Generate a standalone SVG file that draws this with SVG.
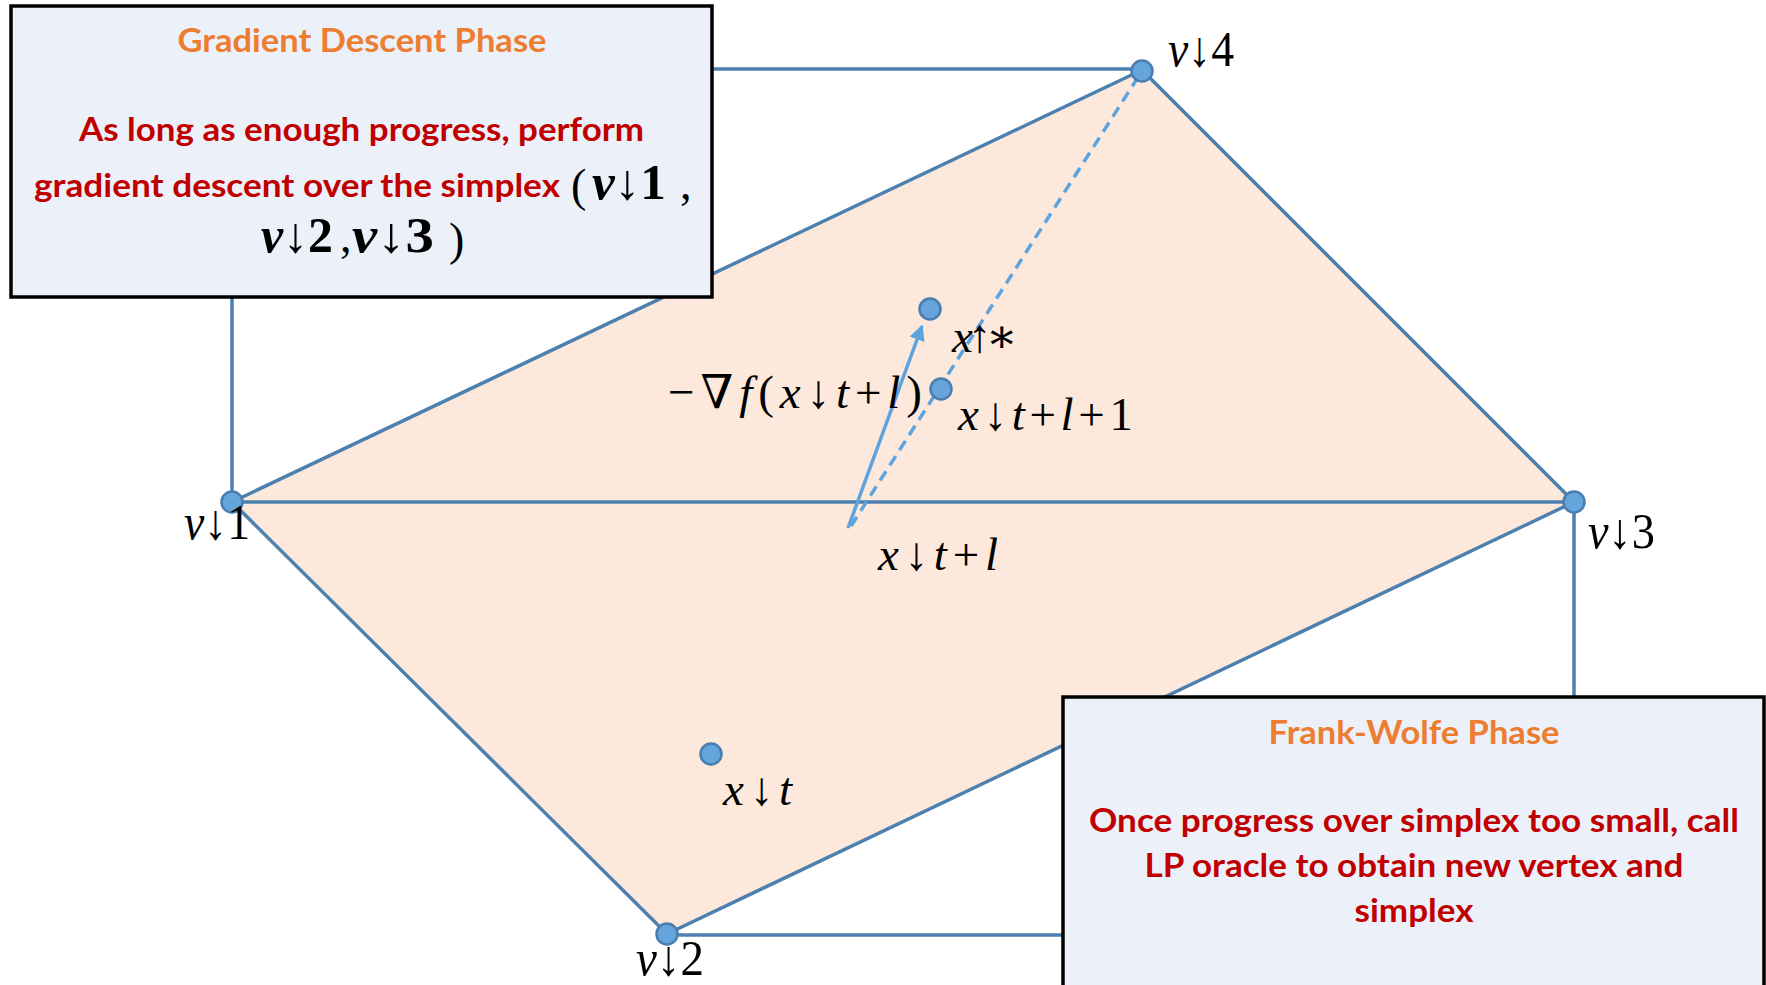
<svg xmlns="http://www.w3.org/2000/svg" width="1766" height="985" viewBox="0 0 1766 985">
<style>
.edge{fill:none;stroke:#4E80AF;stroke-width:3.5}
.vert{fill:#66A5DB;stroke:#4A7EB0;stroke-width:2.5}
.pt{fill:#66A5DB;stroke:#4A7EB0;stroke-width:2.5}
.grad{fill:none;stroke:#5DA4DF;stroke-width:3.5}
.dash{fill:none;stroke:#5DA4DF;stroke-width:3.5;stroke-dasharray:11 7}
.m{font-family:"Liberation Serif","DejaVu Serif",serif;font-size:47px;fill:#000}
.mv{font-family:"Liberation Serif","DejaVu Serif",serif;font-size:50px;fill:#000}
.i{font-style:italic}
.box{fill:#ECF1F9;stroke:#000;stroke-width:3.5}
.ttl{font-family:Lato,"Liberation Sans",sans-serif;font-weight:bold;font-size:33px;fill:#ED7D31}
.body{font-family:Lato,"Liberation Sans",sans-serif;font-weight:bold;font-size:33px;fill:#C00000}
.bm{font-family:"Liberation Serif","DejaVu Serif",serif;font-weight:bold;font-size:50px;fill:#000}
.bp{font-family:"Liberation Serif","DejaVu Serif",serif;font-size:46px;fill:#000}
</style>
<defs>
<marker id="ah" viewBox="0 0 10 10" refX="9" refY="5" markerWidth="4.5" markerHeight="4.5" orient="auto" markerUnits="strokeWidth">
<path d="M0,0 L10,5 L0,10 z" fill="#5DA4DF"/>
</marker>
</defs>

<g id="simplex-fill">
<polygon points="232,502 1142,70 1574,502 667,934" fill="#FCE9DC"/>
</g>

<g id="connectors">
<polyline class="edge" points="1142,69 232,69 232,502"/>
<polyline class="edge" points="1574,502 1574,935 667,935"/>
<line class="edge" x1="232" y1="502" x2="1142" y2="70"/>
<line class="edge" x1="1142" y1="70" x2="1574" y2="502"/>
<line class="edge" x1="1574" y1="502" x2="667" y2="934"/>
<line class="edge" x1="667" y1="934" x2="232" y2="502"/>
<line class="edge" x1="232" y1="502" x2="1574" y2="502"/>
<line class="dash" x1="851" y1="526" x2="1142" y2="71"/>
<line class="grad" x1="848" y1="528" x2="922" y2="326" marker-end="url(#ah)"/>
</g>

<g id="v1"><circle class="vert" cx="232" cy="502" r="10.5"/><text class="mv" x="184" y="539" textLength="66" lengthAdjust="spacingAndGlyphs"><tspan class="i">v</tspan>↓1</text></g>
<g id="v2"><circle class="vert" cx="667" cy="934" r="10.5"/><text class="mv" x="636" y="975" textLength="68" lengthAdjust="spacingAndGlyphs"><tspan class="i">v</tspan>↓2</text></g>
<g id="v3"><circle class="vert" cx="1574" cy="502" r="10.5"/><text class="mv" x="1588" y="548" textLength="67" lengthAdjust="spacingAndGlyphs"><tspan class="i">v</tspan>↓3</text></g>
<g id="v4"><circle class="vert" cx="1142" cy="71" r="10.5"/><text class="mv" x="1168" y="66" textLength="66" lengthAdjust="spacingAndGlyphs"><tspan class="i">v</tspan>↓4</text></g>

<g id="xt"><circle class="pt" cx="711" cy="754" r="10.5"/><text class="m" x="723" y="805" textLength="69"><tspan class="i">x</tspan>↓<tspan class="i">t</tspan></text></g>
<g id="xstar"><circle class="pt" cx="930" cy="309" r="10.5"/><text class="m" x="952" y="352" textLength="66"><tspan class="i">x</tspan>↑∗</text></g>
<g id="xtl1"><circle class="pt" cx="941" cy="389" r="10.5"/><text class="m" x="958" y="430" textLength="175"><tspan class="i">x</tspan>↓<tspan class="i">t</tspan>+<tspan class="i">l</tspan>+1</text></g>
<g id="xtl"><text class="m" x="878" y="570" textLength="120"><tspan class="i">x</tspan>↓<tspan class="i">t</tspan>+<tspan class="i">l</tspan></text></g>
<g id="gradlabel"><text class="m" x="668" y="408" textLength="254">−∇<tspan class="i">f</tspan>(<tspan class="i">x</tspan>↓<tspan class="i">t</tspan>+<tspan class="i">l</tspan>)</text></g>

<g id="gd-box">
<rect class="box" x="11" y="6" width="701" height="291"/>
<text class="ttl" x="362" y="52" text-anchor="middle" textLength="369" lengthAdjust="spacingAndGlyphs">Gradient Descent Phase</text>
<text class="body" x="79" y="141" textLength="565" lengthAdjust="spacingAndGlyphs">As long as enough progress, perform</text>
<text class="body" x="34" y="197" textLength="526" lengthAdjust="spacingAndGlyphs">gradient descent over the simplex</text>
<text class="bp" x="571" y="201">(</text>
<text class="bm" x="592" y="199" textLength="74" lengthAdjust="spacingAndGlyphs"><tspan class="i">v</tspan>↓1</text>
<text class="bp" x="680" y="199">,</text>
<text class="bm" x="261" y="252" textLength="72" lengthAdjust="spacingAndGlyphs"><tspan class="i">v</tspan>↓2</text>
<text class="bp" x="340" y="252">,</text>
<text class="bm" x="352" y="252" textLength="82" lengthAdjust="spacingAndGlyphs"><tspan class="i">v</tspan>↓3</text>
<text class="bp" x="449" y="255">)</text>
</g>

<g id="fw-box">
<rect class="box" x="1063" y="697" width="701" height="300"/>
<text class="ttl" x="1414" y="744" text-anchor="middle" textLength="291" lengthAdjust="spacingAndGlyphs">Frank-Wolfe Phase</text>
<text class="body" x="1414" y="832" text-anchor="middle" textLength="650" lengthAdjust="spacingAndGlyphs">Once progress over simplex too small, call</text>
<text class="body" x="1414" y="877" text-anchor="middle" textLength="539" lengthAdjust="spacingAndGlyphs">LP oracle to obtain new vertex and</text>
<text class="body" x="1414" y="922" text-anchor="middle" textLength="119" lengthAdjust="spacingAndGlyphs">simplex</text>
</g>
</svg>
